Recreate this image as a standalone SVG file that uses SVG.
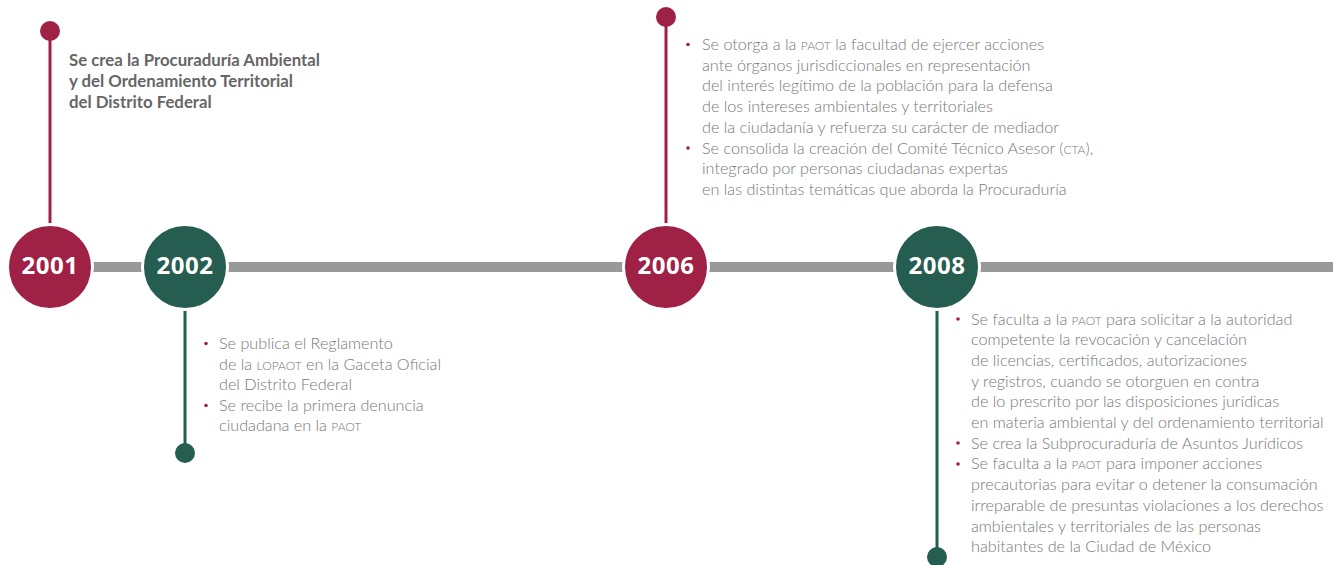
<svg xmlns="http://www.w3.org/2000/svg" width="1333" height="565" viewBox="0 0 1333 565">
<style>
.red{fill:#9f2145}
.green{fill:#255d50}
.yr{fill:#fff;font-family:"Open Sans","Noto Sans",sans-serif;font-weight:700;font-size:24px;letter-spacing:0.5px;text-anchor:middle}
.head{fill:#666;font-family:Lato,"Liberation Sans",sans-serif;font-weight:700;font-size:16.8px}
.body{fill:#787878;font-family:Lato,"Liberation Sans",sans-serif;font-weight:300;font-size:16.2px}
.sc{font-size:12px}
.bul{fill:#9f2145}
</style>
<rect width="1333" height="565" fill="#fff"/>
<g id="connectors">
<rect x="88" y="262" width="1245" height="10" fill="#999"/>
<line x1="50" y1="31" x2="50" y2="226" stroke="#9f2145" stroke-width="3"/>
<line x1="185" y1="308" x2="185" y2="453" stroke="#255d50" stroke-width="3"/>
<line x1="666" y1="17" x2="666" y2="226" stroke="#9f2145" stroke-width="3"/>
<line x1="937" y1="308" x2="937" y2="556" stroke="#255d50" stroke-width="3"/>
</g>
<g id="n2001">
<circle cx="50" cy="31" r="10" class="red"/>
<circle cx="50" cy="267" r="42.5" class="red" stroke="#fff" stroke-width="3"/>
<text x="50" y="273.5" class="yr">2001</text>
<text class="head"><tspan x="69" y="66">Se crea la Procuraduría Ambiental</tspan><tspan x="69" y="87">y del Ordenamiento Territorial</tspan><tspan x="69" y="108">del Distrito Federal</tspan></text>
</g>
<g id="n2002">
<circle cx="185" cy="453" r="10" class="green"/>
<circle cx="185" cy="267" r="42.5" class="green" stroke="#fff" stroke-width="3"/>
<text x="185" y="273.5" class="yr">2002</text>
<circle cx="206" cy="343.5" r="1.8" class="bul"/>
<circle cx="206" cy="405.5" r="1.8" class="bul"/>
<text class="body"><tspan x="219" y="349">Se publica el Reglamento</tspan><tspan x="219" y="369.5">de la <tspan class="sc">LOPAOT</tspan> en la Gaceta Oficial</tspan><tspan x="219" y="390">del Distrito Federal</tspan><tspan x="219" y="410.5">Se recibe la primera denuncia</tspan><tspan x="219" y="431">ciudadana en la <tspan class="sc">PAOT</tspan></tspan></text>
</g>
<g id="n2006">
<circle cx="666" cy="17" r="10" class="red"/>
<circle cx="666" cy="267" r="42.5" class="red" stroke="#fff" stroke-width="3"/>
<text x="666" y="273.5" class="yr">2006</text>
<circle cx="688" cy="44.5" r="1.8" class="bul"/>
<circle cx="688" cy="148" r="1.8" class="bul"/>
<text class="body"><tspan x="702" y="50">Se otorga a la <tspan class="sc">PAOT</tspan> la facultad de ejercer acciones</tspan><tspan x="702" y="70.7">ante órganos jurisdiccionales en representación</tspan><tspan x="702" y="91.4">del interés legítimo de la población para la defensa</tspan><tspan x="702" y="112.1">de los intereses ambientales y territoriales</tspan><tspan x="702" y="132.8">de la ciudadanía y refuerza su carácter de mediador</tspan><tspan x="702" y="153.5">Se consolida la creación del Comité Técnico Asesor (<tspan class="sc">CTA</tspan>),</tspan><tspan x="702" y="174.2">integrado por personas ciudadanas expertas</tspan><tspan x="702" y="194.9">en las distintas temáticas que aborda la Procuraduría</tspan></text>
</g>
<g id="n2008">
<circle cx="937" cy="557" r="10" class="green"/>
<circle cx="937" cy="267" r="42.5" class="green" stroke="#fff" stroke-width="3"/>
<text x="937" y="273.5" class="yr">2008</text>
<circle cx="958" cy="319" r="1.8" class="bul"/>
<circle cx="958" cy="443" r="1.8" class="bul"/>
<circle cx="958" cy="464" r="1.8" class="bul"/>
<text class="body"><tspan x="971" y="324.5">Se faculta a la <tspan class="sc">PAOT</tspan> para solicitar a la autoridad</tspan><tspan x="971" y="345.2">competente la revocación y cancelación</tspan><tspan x="971" y="365.9">de licencias, certificados, autorizaciones</tspan><tspan x="971" y="386.6">y registros, cuando se otorguen en contra</tspan><tspan x="971" y="407.3">de lo prescrito por las disposiciones jurídicas</tspan><tspan x="971" y="428">en materia ambiental y del ordenamiento territorial</tspan><tspan x="971" y="448.7">Se crea la Subprocuraduría de Asuntos Jurídicos</tspan><tspan x="971" y="469.4">Se faculta a la <tspan class="sc">PAOT</tspan> para imponer acciones</tspan><tspan x="971" y="490.1">precautorias para evitar o detener la consumación</tspan><tspan x="971" y="510.8">irreparable de presuntas violaciones a los derechos</tspan><tspan x="971" y="531.5">ambientales y territoriales de las personas</tspan><tspan x="971" y="552.2">habitantes de la Ciudad de México</tspan></text>
</g>
</svg>
